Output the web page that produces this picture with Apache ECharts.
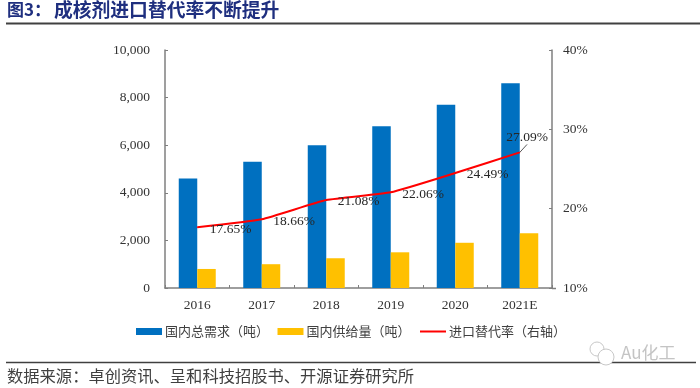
<!DOCTYPE html>
<html><head><meta charset="utf-8">
<style>html,body{margin:0;padding:0;background:#fff}#c{width:700px;height:388px}</style>
<script src="https://cdn.jsdelivr.net/npm/echarts@6/dist/echarts.min.js"></script>
</head><body><div id="c"></div>
<script>
const categories = ['2016','2017','2018','2019','2020','2021E'];
const demand = [4600,5300,6000,6800,7700,8600];
const supply = [800,1000,1250,1500,1900,2300];
const rate = [17.65,18.66,21.08,22.06,24.49,27.09];
const rateLabels = ['17.65%','18.66%','21.08%','22.06%','24.49%','27.09%'];
const labelShift = [[12,2],[11,2],[11,1],[11,2],[11,1],[-14,-15]];
const serif = '"Liberation Serif","Times New Roman",serif';
const cjk = '"Noto Sans CJK SC",sans-serif';
const chart = echarts.init(document.getElementById('c'), null, {renderer:'canvas'});
const axisLine = {show:true,lineStyle:{color:'#7f7f7f',width:1.5}};
const axisTick = {show:true,inside:true,length:3,lineStyle:{color:'#7f7f7f',width:1}};
const ruler = (y,x2,w) => ({type:'line',shape:{x1:6,y1:y,x2:x2,y2:y},style:{stroke:'#404040',lineWidth:w}});
const lastIndex = rate.length - 1;
chart.setOption({
  animation:false,
  backgroundColor:'#fff',
  grid:{left:165,right:148,top:50,bottom:100,containLabel:false},
  legend:{left:131,top:320,itemWidth:26,itemHeight:7,itemGap:8.5,
    textStyle:{fontFamily:cjk,fontSize:13,color:'#404040',padding:[0,0,0,-2]},
    data:[{name:'国内总需求（吨）',icon:'rect'},{name:'国内供给量（吨）',icon:'rect'},
      {name:'进口替代率（右轴）',itemStyle:{opacity:0}}]},
  xAxis:{type:'category',data:categories,axisLine:axisLine,axisTick:Object.assign({},axisTick,{alignWithLabel:false}),
    axisLabel:{fontFamily:serif,fontSize:13.5,color:'#333',margin:10}},
  yAxis:[
    {type:'value',min:0,max:10000,interval:2000,splitLine:{show:false},axisLine:axisLine,axisTick:axisTick,
      axisLabel:{fontFamily:serif,fontSize:13.5,color:'#333',margin:15,formatter:v=>v.toLocaleString('en-US')}},
    {type:'value',min:10,max:40,interval:10,position:'right',splitLine:{show:false},axisLine:axisLine,axisTick:axisTick,
      axisLabel:{fontFamily:serif,fontSize:13.5,color:'#333',margin:11,formatter:'{value}%'}}
  ],
  series:[
    {name:'国内总需求（吨）',type:'bar',data:demand,barWidth:18.5,barGap:0,itemStyle:{color:'#0070c0'}},
    {name:'国内供给量（吨）',type:'bar',data:supply,barWidth:18.5,barGap:0,itemStyle:{color:'#ffc000'}},
    {name:'进口替代率（右轴）',type:'line',yAxisIndex:1,
      data:rate.map((v,i)=>({value:v,labelLine:{show:i===lastIndex,lineStyle:{color:'#595959',width:1}}})),
      symbol:'circle',symbolSize:1,showAllSymbol:true,smooth:0.15,z:5,
      lineStyle:{color:'#ff0000',width:2},itemStyle:{color:'#ff0000'},
      label:{show:true,position:'right',distance:0,fontFamily:serif,fontSize:13.5,color:'#262626',
        formatter:p=>rateLabels[p.dataIndex]},
      labelLayout:p=>({dx:labelShift[p.dataIndex][0],dy:labelShift[p.dataIndex][1]})}
  ],
  graphic:[
    {type:'text',left:7,top:1,style:{text:'图3：',font:'bold 17px '+cjk,fill:'#1f2f7f'}},
    {type:'text',left:54,top:0,style:{text:'成核剂进口替代率不断提升',font:'bold 18.8px '+cjk,fill:'#1f2f7f'}},
    ruler(23.5,700,2),
    ruler(362.5,696,1.5),
    {type:'line',shape:{x1:552,y1:288.5,x2:556,y2:288.5},style:{stroke:'#7f7f7f',lineWidth:1.5}},
    {type:'text',left:7,top:368,style:{text:'数据来源：卓创资讯、呈和科技招股书、开源证券研究所',font:'16.3px '+cjk,fill:'#404040'}},
    {type:'circle',shape:{cx:597,cy:349,r:7},style:{fill:'#fff',stroke:'#c8c8c8',lineWidth:1}},
    {type:'circle',shape:{cx:606,cy:357,r:8},style:{fill:'#fff',stroke:'#c8c8c8',lineWidth:1}},
    {type:'text',left:621,top:344,style:{text:'Au化工',font:'17px '+cjk,fill:'#c4c4c4'}}
  ]
});
</script></body></html>
